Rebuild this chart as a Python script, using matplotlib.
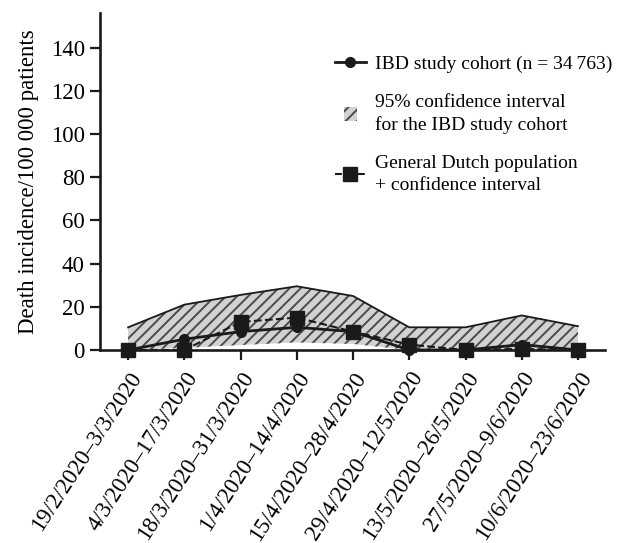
import numpy as np
import matplotlib
matplotlib.use("Agg")
import matplotlib.pyplot as plt
from matplotlib.lines import Line2D
from matplotlib.patches import Rectangle
from matplotlib.legend_handler import HandlerPatch

# data
periods = ["19/2/2020\u20133/3/2020", "4/3/2020\u201317/3/2020", "18/3/2020\u201331/3/2020",
           "1/4/2020\u201314/4/2020", "15/4/2020\u201328/4/2020", "29/4/2020\u201312/5/2020",
           "13/5/2020\u201326/5/2020", "27/5/2020\u20139/6/2020", "10/6/2020\u201323/6/2020"]
ibd = [0, 5, 8.5, 10.5, 8.5, 0, 0, 2.5, 0]
ibd_upper = [10.5, 21, 25.5, 29.5, 25, 10.5, 10.5, 16, 11]
ibd_lower = [0, 1, 2.3, 3.5, 2.8, 0, 0, 0, 0]
dutch = [0, 0, 13, 15, 8.5, 2.5, 0, 0.5, 0]
yticks = [0, 20, 40, 60, 80, 100, 120, 140]

plt.rcParams['font.family'] = ['Liberation Serif', 'DejaVu Serif']
plt.rcParams['font.size'] = 16.5
plt.rcParams['hatch.linewidth'] = 1.4
plt.rcParams['hatch.color'] = '#4a4a4a'

x = np.arange(len(periods))

fig = plt.figure(figsize=(6.2, 5.43), dpi=100)
ax = fig.add_axes([100/620, 1-350/543, 505/620, 337/543])

ax.fill_between(x, ibd_lower, ibd_upper, facecolor='#d2d2d2', edgecolor='#4a4a4a',
                hatch='///', linewidth=0, zorder=1)
ax.plot(x, ibd_upper, color='#1a1a1a', lw=1.3, zorder=2)
ax.plot(x, ibd, color='#1a1a1a', lw=2, marker='o', ms=7, zorder=3, clip_on=False)
ax.plot(x, dutch, color='#1a1a1a', lw=1.5, ls='--', marker='s', ms=9.5, zorder=4, clip_on=False)

ax.set_xlim(-0.5, 8.48)
ax.set_ylim(0, 156)
ax.set_yticks(yticks)
ax.set_xticks(x)
ax.set_xticklabels(periods, rotation=57, ha='right', va='top', rotation_mode='anchor')
ax.set_ylabel("Death incidence/100 000 patients", labelpad=8)

for s in ['top', 'right']:
    ax.spines[s].set_visible(False)
for s in ['left', 'bottom']:
    ax.spines[s].set_linewidth(1.9)
    ax.spines[s].set_color('#1a1a1a')
ax.tick_params(axis='both', direction='out', length=7, width=1.6, color='#1a1a1a', pad=4)
ax.tick_params(axis='x', pad=6)


def small_patch(legend, orig_handle, xdescent, ydescent, width, height, fontsize):
    side = height * 1.0
    return Rectangle((width / 2 - side / 2 - xdescent, -ydescent), side, side)


h_ibd = Line2D([], [], color='#1a1a1a', lw=2, marker='o', ms=7)
h_ci = Rectangle((0, 0), 1, 1, facecolor='#d2d2d2', edgecolor='#4a4a4a', hatch='///', lw=0)
h_nl = Line2D([], [], color='#1a1a1a', lw=1.5, ls=(0, (3.3, 2.2)), marker='s', ms=9.5)
leg = ax.legend([h_ibd, h_ci, h_nl],
                ["IBD study cohort (n = 34\u2009763)",
                 "95% confidence interval\nfor the IBD study cohort",
                 "General Dutch population\n+ confidence interval"],
                handler_map={Rectangle: HandlerPatch(patch_func=small_patch)},
                loc='upper left', bbox_to_anchor=(0.465, 0.875), frameon=False,
                borderpad=0, borderaxespad=0, handlelength=1.6, handletextpad=0.45,
                labelspacing=1.1, fontsize=14)
for t in leg.get_texts():
    t.set_linespacing(1.35)

fig.savefig("out.png", dpi=100)
